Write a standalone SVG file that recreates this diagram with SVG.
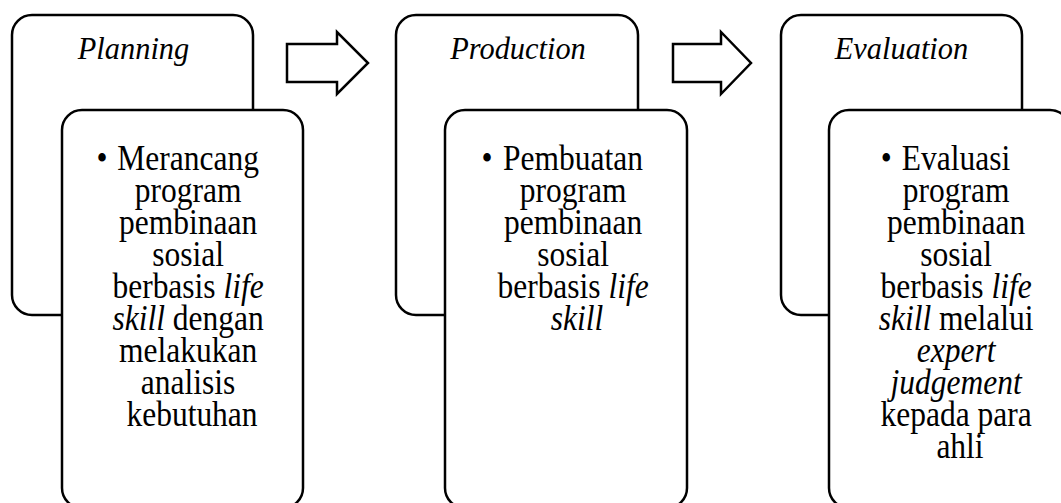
<svg xmlns="http://www.w3.org/2000/svg" width="1061" height="503" viewBox="0 0 1061 503">
<style>
.box{fill:#fff;stroke:#000;stroke-width:2.5}
.arrow{fill:#fff;stroke:#000;stroke-width:2.5;stroke-linejoin:miter}
.title{font-family:"Liberation Serif","Times New Roman",serif;font-size:32px;font-style:italic;text-anchor:middle;fill:#000}
.body{font-family:"Liberation Serif","Times New Roman",serif;font-size:35px;text-anchor:middle;fill:#000}
.i{font-style:italic}
</style>
<rect width="1061" height="503" fill="#fff"/>
<g id="node-planning">
<rect class="box" x="12" y="15" width="241" height="300" rx="20"/>
<text class="title" transform="translate(133.5,59) scale(0.95,1)" x="0" y="0">Planning</text>
<rect class="box" x="62" y="110" width="241" height="398" rx="20"/>
<g transform="translate(192,0) scale(0.9,1)">
<text class="body" x="-100" y="170">•</text>
<text class="body">
<tspan x="0" y="170">Merancang</tspan>
<tspan x="0" y="202">program</tspan>
<tspan x="0" y="234">pembinaan</tspan>
<tspan x="0" y="266">sosial</tspan>
<tspan x="0" y="298">berbasis <tspan class="i">life</tspan></tspan>
<tspan x="0" y="330"><tspan class="i">skill</tspan> dengan</tspan>
<tspan x="0" y="362">melakukan</tspan>
<tspan x="0" y="394">analisis</tspan>
<tspan x="0" y="426">kebutuhan</tspan>
</text>
</g>
</g>
<g id="node-production">
<rect class="box" x="396" y="15" width="242" height="300" rx="20"/>
<text class="title" transform="translate(518,59) scale(0.95,1)" x="0" y="0">Production</text>
<rect class="box" x="445" y="110" width="242" height="398" rx="20"/>
<g transform="translate(577,0) scale(0.9,1)">
<text class="body" x="-100" y="170">•</text>
<text class="body">
<tspan x="0" y="170">Pembuatan</tspan>
<tspan x="0" y="202">program</tspan>
<tspan x="0" y="234">pembinaan</tspan>
<tspan x="0" y="266">sosial</tspan>
<tspan x="0" y="298">berbasis <tspan class="i">life</tspan></tspan>
<tspan x="0" y="330" class="i">skill</tspan>
</text>
</g>
</g>
<g id="node-evaluation">
<rect class="box" x="781" y="15" width="241" height="300" rx="20"/>
<text class="title" transform="translate(901.5,59) scale(0.95,1)" x="0" y="0">Evaluation</text>
<rect class="box" x="829" y="110" width="241" height="398" rx="20"/>
<g transform="translate(960,0) scale(0.9,1)">
<text class="body" x="-82" y="170">•</text>
<text class="body">
<tspan x="0" y="170">Evaluasi</tspan>
<tspan x="0" y="202">program</tspan>
<tspan x="0" y="234">pembinaan</tspan>
<tspan x="0" y="266">sosial</tspan>
<tspan x="0" y="298">berbasis <tspan class="i">life</tspan></tspan>
<tspan x="0" y="330"><tspan class="i">skill</tspan> melalui</tspan>
<tspan x="0" y="362" class="i">expert</tspan>
<tspan x="0" y="394" class="i">judgement</tspan>
<tspan x="0" y="426">kepada para</tspan>
<tspan x="0" y="458">ahli</tspan>
</text>
</g>
</g>
<g id="connectors">
<polygon class="arrow" points="287,44 337,44 337,32 368,63 337,94 337,82 287,82"/>
<polygon class="arrow" points="673,44 721,44 721,32 751,63 721,94 721,82 673,82"/>
</g>
</svg>
